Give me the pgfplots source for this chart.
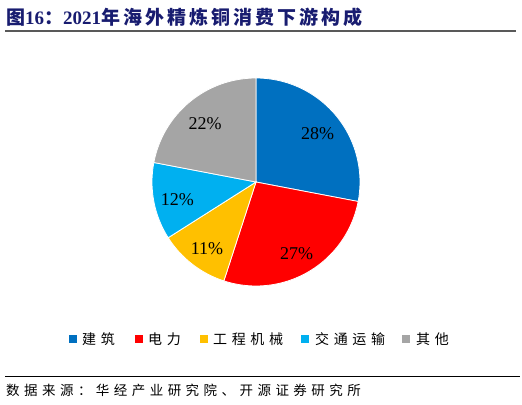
\documentclass[border=0pt]{standalone}
\usepackage{fontspec}
\setmainfont{Liberation Serif}
\newfontfamily\cjkt[LetterSpace=16]{Noto Sans CJK SC}
\newfontfamily\cjk[LetterSpace=33]{Noto Sans CJK SC}
\usepackage{pgfplots}
\usepackage{pgfplotstable}
\pgfplotsset{compat=1.18}

\definecolor{pieBlue}{HTML}{0070C0}
\definecolor{pieRed}{HTML}{FF0000}
\definecolor{pieGold}{HTML}{FFC000}
\definecolor{pieCyan}{HTML}{00B0F0}
\definecolor{pieGray}{HTML}{A5A5A5}
\definecolor{titleBlue}{RGB}{24,28,112}
\definecolor{ruleGray}{HTML}{595959}

% share of downstream consumption, clockwise from 12 o'clock
\pgfplotstableread{
share color
28 pieBlue
27 pieRed
11 pieGold
12 pieCyan
22 pieGray
}\piedata

\begin{document}
\begin{tikzpicture}
\useasboundingbox (0,0) rectangle (522bp,405bp);
\begin{axis}[
    at={(0,0)}, anchor=south west,
    x=1bp, y=1bp,
    xmin=0, xmax=522, ymin=0, ymax=405,
    hide axis, clip=false,
]
    % title and rules
    \node[anchor=west, text=titleBlue, inner sep=0pt,
          font=\fontsize{19bp}{21bp}\selectfont\bfseries]
        at (axis cs:6,388)
        {{\cjkt 图}16{\cjkt ：}2021{\cjkt 年海外精炼铜消费下游构成}};
    \draw[ruleGray, line width=1.6pt] (axis cs:5,374) -- (axis cs:516,374);
    \draw[black, line width=0.8pt] (axis cs:5,29) -- (axis cs:520,29);
    \node[anchor=west, inner sep=0pt, font=\fontsize{13.5bp}{15bp}\selectfont\cjk]
        at (axis cs:6,15) {数据来源：华经产业研究院、开源证券研究所};

    % pie
    \global\def\cur{90}
    \pgfplotsinvokeforeach{0,...,4}{%
        \pgfplotstablegetelem{#1}{share}\of\piedata \let\sh\pgfplotsretval
        \pgfplotstablegetelem{#1}{color}\of\piedata \let\co\pgfplotsretval
        \pgfmathsetmacro\nx{\cur-3.6*\sh}
        \pgfmathsetmacro\md{(\cur+\nx)/2}
        \edef\cmd{%
            \noexpand\fill[\co, draw=white, line width=0.8pt]
                (axis cs:256,223) -- ++(\cur:104bp)
                arc[start angle=\cur, end angle=\nx, radius=104bp] -- cycle;
            \noexpand\path (axis cs:256,220) ++(\md:80bp)
                node[font=\noexpand\fontsize{18bp}{20bp}\noexpand\selectfont]
                {\sh\noexpand\%};
        }%
        \cmd
        \global\let\cur\nx
    }

    % legend
    \fill[pieBlue] (axis cs:69,62) rectangle (axis cs:77,70);
    \fill[pieRed]  (axis cs:135,62) rectangle (axis cs:143,70);
    \fill[pieGold] (axis cs:200,62) rectangle (axis cs:208,70);
    \fill[pieCyan] (axis cs:301,62) rectangle (axis cs:309,70);
    \fill[pieGray] (axis cs:402,62) rectangle (axis cs:410,70);
    \begin{scope}[every node/.style={anchor=west, inner sep=0pt,
                  font=\fontsize{14bp}{16bp}\selectfont\cjk}]
        \node at (axis cs:82,66) {建筑};
        \node at (axis cs:148,66) {电力};
        \node at (axis cs:213,66) {工程机械};
        \node at (axis cs:315,66) {交通运输};
        \node at (axis cs:416,66) {其他};
    \end{scope}
\end{axis}
\end{tikzpicture}
\end{document}
